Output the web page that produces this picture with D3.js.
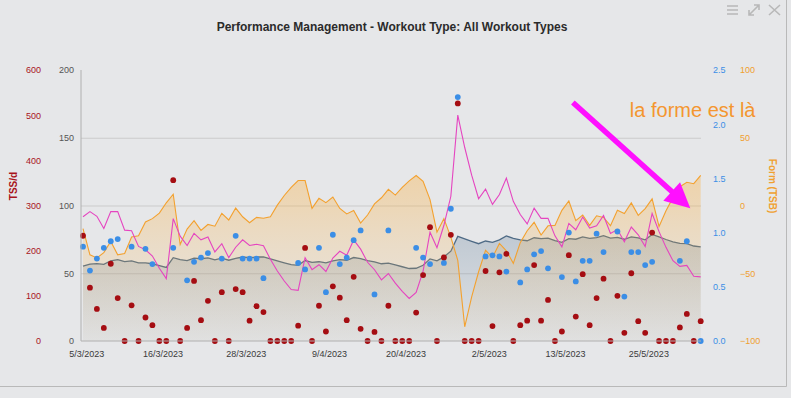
<!DOCTYPE html>
<html>
<head>
<meta charset="utf-8">
<title>Performance Management</title>
<script src="https://d3js.org/d3.v7.min.js"></script>
<style>
  body { margin: 0; background: #e6e7e9; }
  svg text { font-family: "Liberation Sans", Arial, Helvetica, sans-serif; }
  .axis .domain, .axis line { display: none; }
  .gridlines line { stroke: #cbcbcb; }
  .gridlines .domain { stroke: none; }
</style>
</head>
<body>
<svg id="pmc" width="791" height="398"></svg>
<script>
// one point per day, starting on the first day below
const startDay = "5/3/2023";
const tickLabels = ["5/3/2023", "16/3/2023", "28/3/2023", "9/4/2023", "20/4/2023", "2/5/2023", "13/5/2023", "25/5/2023"];

// TSS per day (left axis)
const tss = [233, 118, 71, 29, 171, 95, 0, 79, 0, 52,
  35, 0, 0, 356, 0, 29, 133, 46, 89, 0,
  108, 0, 115, 108, 45, 77, 64, 0, 0, 0,
  0, 34, 206, 0, 78, 21, 121, 96, 46, 142,
  27, 0, 20, 0, 78, 0, 0, 0, 63, 146,
  252, 0, 185, 235, 526, 0, 0, 0, 155, 33,
  152, 193, 0, 35, 45, 168, 45, 91, 0, 21,
  190, 54, 148, 35, 95, 138, 0, 100, 18, 150,
  44, 18, 240, 0, 0, 0, 30, 60, 0, 44];

// intensity factor (blue, right axis), null = no workout
const intensity = [0.87, 0.65, 0.76, 0.86, 0.92, 0.94, null, 0.87, null, 0.85,
  0.71, null, null, 0.86, null, 0.56, 0.73, 0.77, 0.81, null,
  0.76, null, 0.97, 0.76, 0.76, 0.76, 0.58, null, null, null,
  null, 0.72, 0.66, null, 0.86, 0.45, 0.98, 0.71, 0.77, 0.93,
  1.02, null, 0.43, null, 1.02, null, null, null, 0.86, 0.77,
  0.71, null, 0.72, 1.22, 2.25, null, null, null, 0.78, 0.79,
  0.78, 0.64, null, 0.54, 0.66, 0.80, 0.83, 0.67, null, 0.59,
  1.00, 0.55, 0.74, 0.74, 0.99, 0.82, null, 1.01, 0.41, 0.82,
  0.82, 0.70, 0.73, null, null, null, 0.74, 0.92, null, 0.00];

// fitness (CTL) and fatigue (ATL), middle axis
const fitness = [55.3, 56.8, 57.1, 56.5, 59.2, 60.0, 58.6, 59.1, 57.7, 57.6,
  57.0, 55.7, 54.3, 61.5, 60.1, 59.3, 61.1, 60.7, 61.4, 59.9,
  61.1, 59.6, 60.9, 62.0, 61.6, 62.0, 62.0, 60.6, 59.1, 57.7,
  56.3, 55.8, 59.4, 58.0, 58.5, 57.6, 59.1, 60.0, 59.6, 61.6,
  60.8, 59.3, 58.4, 57.0, 57.5, 56.1, 54.8, 53.5, 53.7, 55.9,
  60.6, 59.1, 62.1, 66.3, 77.2, 75.4, 73.6, 71.8, 73.8, 72.8,
  74.7, 77.5, 75.7, 74.7, 74.0, 76.2, 75.5, 75.9, 74.1, 72.8,
  75.6, 75.1, 76.8, 75.8, 76.3, 77.8, 75.9, 76.5, 75.1, 76.9,
  76.1, 74.7, 78.6, 76.8, 74.9, 73.2, 72.1, 71.8, 70.1, 69.5];

const fatigue = [91.7, 95.5, 92.0, 83.0, 95.6, 95.5, 81.8, 81.4, 69.8, 67.3,
  62.7, 53.7, 46.0, 90.3, 77.4, 70.5, 79.4, 74.7, 76.7, 65.7,
  71.8, 61.5, 69.2, 74.7, 70.5, 71.4, 70.3, 60.3, 51.7, 44.3,
  38.0, 37.4, 61.5, 52.7, 56.3, 51.3, 61.2, 66.2, 63.3, 74.6,
  67.8, 58.1, 52.6, 45.1, 49.8, 42.7, 36.6, 31.4, 35.9, 51.6,
  80.3, 68.8, 85.4, 106.8, 166.7, 142.8, 122.4, 105.0, 112.1, 100.8,
  108.1, 120.2, 103.1, 93.3, 86.4, 98.1, 90.5, 90.6, 77.6, 69.5,
  86.8, 82.1, 91.5, 83.4, 85.1, 92.6, 79.4, 82.3, 73.2, 84.1,
  78.4, 69.8, 94.1, 80.7, 69.1, 59.3, 55.1, 55.8, 47.8, 47.3];

// form (TSB), far right axis
const form = [-17.0, -36.4, -38.7, -34.8, -26.5, -36.4, -35.4, -23.2, -22.3, -12.1,
  -9.7, -5.6, 2.0, 8.3, -28.8, -17.4, -11.2, -18.4, -14.0, -15.3,
  -5.8, -10.7, -1.9, -8.3, -12.7, -8.8, -9.4, -8.3, 0.3, 7.4,
  13.4, 18.4, 18.4, -2.1, 5.3, 2.1, 6.3, -2.2, -6.2, -3.7,
  -13.0, -7.0, 1.2, 5.7, 11.9, 7.7, 13.4, 18.2, 22.1, 17.8,
  4.3, -19.7, -9.7, -23.3, -40.5, -89.5, -67.5, -48.9, -33.1, -38.3,
  -28.0, -33.4, -42.7, -27.4, -18.6, -12.4, -21.8, -15.0, -14.7, -3.6,
  3.3, -11.2, -7.0, -14.7, -7.6, -8.8, -14.9, -3.5, -5.9, 1.9,
  -7.3, -2.3, 4.9, -15.5, -3.9, 5.8, 13.9, 17.1, 16.1, 22.3];

const tssTicks = [0, 100, 200, 300, 400, 500, 600];
const loadTicks = [0, 50, 100, 150, 200];
const ifTicks = [0, 0.5, 1, 1.5, 2, 2.5];
const formTicks = [-100, -50, 0, 50, 100];

const title = "Performance Management - Workout Type: All Workout Types";
const note = "la forme est là";

const svg = d3.select("svg#pmc");
const width = +svg.attr("width");
const height = +svg.attr("height");
const margin = { top: 70, right: 90, bottom: 57, left: 81 };
const plotRight = width - margin.right;
const plotBottom = height - margin.bottom;

const parseDay = d3.utcParse("%d/%m/%Y");
const start = parseDay(startDay);
const days = tss.map((d, i) => d3.utcDay.offset(start, i));
const rows = days.map((d, i) => ({
  date: d, tss: tss[i], ifv: intensity[i], ctl: fitness[i], atl: fatigue[i], tsb: form[i]
}));

const x = d3.scaleUtc().domain(d3.extent(days)).range([margin.left + 2, plotRight - 0.3]);
const yLoad = d3.scaleLinear().domain([0, 200]).range([plotBottom, margin.top]);
const yTss = d3.scaleLinear().domain([0, 600]).range([plotBottom, margin.top]);
const yIf = d3.scaleLinear().domain([0, 2.5]).range([plotBottom, margin.top]);
const yForm = d3.scaleLinear().domain([-100, 100]).range([plotBottom, margin.top]);

// background
svg.append("rect").attr("width", width).attr("height", height).attr("fill", "#e6e7e9");

// frame at right and bottom
svg.append("path")
  .attr("d", `M${width - 4.5},0V${height - 11.5}H0`)
  .attr("fill", "none").attr("stroke", "#b9b9b9");

// little menu icons
let icons = svg.append("g").attr("stroke", "#b8b8b8").attr("stroke-width", 1.6).attr("fill", "none");
icons.append("path").attr("d", "M727,6H738M727,10H738M727,14H738");
icons.append("path").attr("d", "M749,15L759,5M754,5H759V10M749,10V15H754");
icons.append("path").attr("d", "M769,5L780,15M780,5L769,15");

svg.append("text")
  .attr("x", 392).attr("y", 31)
  .attr("text-anchor", "middle")
  .attr("font-size", 12).attr("font-weight", "bold").attr("fill", "#2b2b2b")
  .text(title);

// gridlines
svg.append("g").attr("class", "gridlines")
  .attr("transform", `translate(${margin.left},0)`)
  .call(d3.axisLeft(yLoad).tickValues([50, 100, 150]).tickSize(-(plotRight - margin.left)).tickFormat(""));

let chartArea = svg.append("g");

const defs = svg.append("defs");
const ctlGrad = defs.append("linearGradient")
  .attr("id", "ctlFill").attr("gradientUnits", "userSpaceOnUse")
  .attr("x1", 0).attr("x2", 0).attr("y1", yLoad(80)).attr("y2", plotBottom);
ctlGrad.append("stop").attr("offset", 0).attr("stop-color", "#66829c").attr("stop-opacity", 0.3);
ctlGrad.append("stop").attr("offset", 1).attr("stop-color", "#66829c").attr("stop-opacity", 0.05);

// orange form fill: strong near the top, fading out towards the bottom
const tsbGrad = defs.append("linearGradient")
  .attr("id", "tsbFill").attr("gradientUnits", "userSpaceOnUse")
  .attr("x1", 0).attr("x2", 0).attr("y1", yForm(30)).attr("y2", plotBottom);
tsbGrad.append("stop").attr("offset", 0).attr("stop-color", "#fbb040").attr("stop-opacity", 0.4);
tsbGrad.append("stop").attr("offset", 0.45).attr("stop-color", "#fbb040").attr("stop-opacity", 0.2);
tsbGrad.append("stop").attr("offset", 1).attr("stop-color", "#fbb040").attr("stop-opacity", 0.03);

const ctlArea = d3.area().x(d => x(d.date)).y0(yLoad(0)).y1(d => yLoad(d.ctl));
const ctlLine = d3.line().x(d => x(d.date)).y(d => yLoad(d.ctl));
const atlLine = d3.line().x(d => x(d.date)).y(d => yLoad(d.atl));
const tsbArea = d3.area().x(d => x(d.date)).y0(yForm(-100)).y1(d => yForm(d.tsb));
const tsbLine = d3.line().x(d => x(d.date)).y(d => yForm(d.tsb));

chartArea.append("path").datum(rows).attr("d", ctlArea).attr("fill", "url(#ctlFill)");
chartArea.append("path").datum(rows).attr("d", ctlLine)
  .attr("fill", "none").attr("stroke", "#4f6b86").attr("stroke-width", 1.3);
chartArea.append("path").datum(rows).attr("d", tsbArea).attr("fill", "url(#tsbFill)");
chartArea.append("path").datum(rows).attr("d", tsbLine)
  .attr("fill", "none").attr("stroke", "#f3a12f").attr("stroke-width", 1.1);
chartArea.append("path").datum(rows).attr("d", atlLine)
  .attr("fill", "none").attr("stroke", "#e545c0").attr("stroke-width", 1.1);

chartArea.selectAll("circle.if").data(rows.filter(d => d.ifv !== null))
  .join("circle").attr("class", "if")
  .attr("cx", d => x(d.date)).attr("cy", d => yIf(d.ifv))
  .attr("r", 2.9).attr("fill", "#3b8ee6");

chartArea.selectAll("circle.tss").data(rows)
  .join("circle").attr("class", "tss")
  .attr("cx", d => x(d.date)).attr("cy", d => yTss(d.tss))
  .attr("r", 2.9).attr("fill", "#a50d12");

// axes
let annotations = svg.append("g");

annotations.append("line")
  .attr("x1", margin.left).attr("x2", margin.left)
  .attr("y1", margin.top).attr("y2", plotBottom)
  .attr("stroke", "#b0b0b0");
annotations.append("line")
  .attr("x1", margin.left).attr("x2", plotRight)
  .attr("y1", plotBottom).attr("y2", plotBottom)
  .attr("stroke", "#b0b0b0");

function styleTicks(g, color) {
  g.selectAll("text").attr("fill", color).attr("font-size", 9);
}

annotations.append("g").attr("class", "axis")
  .attr("transform", `translate(41,0)`)
  .call(d3.axisLeft(yTss).tickValues(tssTicks).tickSize(0).tickPadding(0))
  .call(g => styleTicks(g, "#a8141c"));

annotations.append("g").attr("class", "axis")
  .attr("transform", `translate(${margin.left},0)`)
  .call(d3.axisLeft(yLoad).tickValues(loadTicks).tickSize(0).tickPadding(7))
  .call(g => styleTicks(g, "#555"));

annotations.append("g").attr("class", "axis")
  .attr("transform", `translate(${plotRight + 12},0)`)
  .call(d3.axisRight(yIf).tickValues(ifTicks).tickSize(0).tickPadding(0).tickFormat(d3.format(".1f")))
  .call(g => styleTicks(g, "#3b8ee6"));

annotations.append("g").attr("class", "axis")
  .attr("transform", `translate(${plotRight + 39},0)`)
  .call(d3.axisRight(yForm).tickValues(formTicks).tickSize(0).tickPadding(0))
  .call(g => styleTicks(g, "#f0a030"));

const tickDates = tickLabels.map(s => d3.utcHour.offset(parseDay(s), 11));
annotations.append("g").attr("class", "axis")
  .attr("transform", `translate(0,${plotBottom})`)
  .call(d3.axisBottom(x).tickValues(tickDates).tickSize(0).tickPadding(10)
    .tickFormat((d, i) => tickLabels[i]))
  .call(g => styleTicks(g, "#3a3a3a"));

annotations.append("text")
  .attr("transform", `translate(13.5,186) rotate(-90)`)
  .attr("dy", "0.35em").attr("text-anchor", "middle")
  .attr("font-size", 10).attr("font-weight", "bold").attr("fill", "#a8141c")
  .text("TSS/d");

annotations.append("text")
  .attr("transform", `translate(772,186) rotate(90)`)
  .attr("dy", "0.35em").attr("text-anchor", "middle")
  .attr("font-size", 10).attr("font-weight", "bold").attr("fill", "#f0a030")
  .text("Form (TSB)");

// hand-drawn note: arrow pointing at the rising form
const dayAt = n => d3.utcHour.offset(start, Math.round(n * 24));
const from = [x(dayAt(70.6)), yLoad(176)];
const tip = [x(dayAt(87.5)), yLoad(98)];
const ang = Math.atan2(tip[1] - from[1], tip[0] - from[0]);
const headLen = 25, headHalf = 12.5;
const base = [tip[0] - headLen * Math.cos(ang), tip[1] - headLen * Math.sin(ang)];
const nx = -Math.sin(ang), ny = Math.cos(ang);

annotations.append("line")
  .attr("x1", from[0]).attr("y1", from[1])
  .attr("x2", base[0] + 2 * Math.cos(ang)).attr("y2", base[1] + 2 * Math.sin(ang))
  .attr("stroke", "#ff10ff").attr("stroke-width", 5.5);
annotations.append("path")
  .attr("d", `M${tip[0]},${tip[1]}L${base[0] + nx * headHalf},${base[1] + ny * headHalf}L${base[0] - nx * headHalf},${base[1] - ny * headHalf}Z`)
  .attr("fill", "#ff10ff");

annotations.append("text")
  .attr("x", x(dayAt(78.8))).attr("y", yLoad(165.5))
  .attr("font-size", 20).attr("fill", "#f4962f")
  .text(note);
</script>
</body>
</html>
